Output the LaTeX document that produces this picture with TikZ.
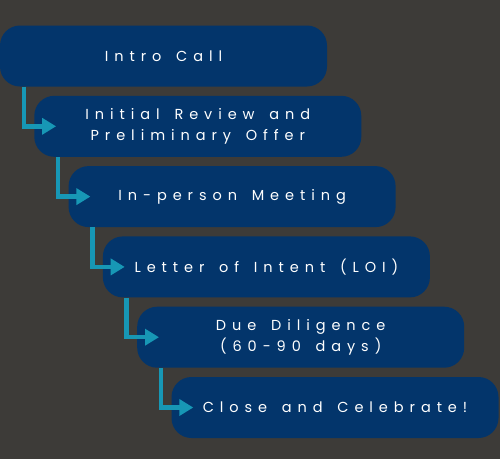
\documentclass[tikz,border=0pt]{standalone}
\usepackage{fontspec}
\setmainfont{Poppins}[LetterSpace=41,WordSpace=1.5]
\usetikzlibrary{arrows.meta}
\definecolor{bgcol}{HTML}{3D3B38}
\definecolor{boxcol}{HTML}{03356B}
\definecolor{linkcol}{HTML}{1797B5}
\begin{document}
\begin{tikzpicture}[x=1pt,y=-1pt]

        \fill[bgcol] (0,0) rectangle (500,459);
        \useasboundingbox (0,0) rectangle (500,459);

        \begin{scope}[every node/.style={rectangle,rounded corners=20pt,fill=boxcol,
            minimum width=327pt,minimum height=61pt,text=white,font=\fontsize{14.5}{21}\selectfont,
            align=center}]
          \node (1) at (163.5,56)    {Intro Call};
          \node (2) at (197.8,126.3) {Initial Review and\\Preliminary Offer};
          \node (3) at (232.1,196.6) {In-person Meeting};
          \node (4) at (266.4,266.9) {Letter of Intent (LOI)};
          \node (5) at (300.7,337.2) {Due Diligence\\(60-90 days)};
          \node (6) at (335,407.5)   {Close and Celebrate!};
        \end{scope}

        \begin{scope}[every path/.style={draw=linkcol,line width=4.5pt,
            -{Triangle[length=14pt,width=16pt]}}]
          \draw ([xshift=24pt]1.south west) |- ([xshift=22pt]2.west);
          \draw ([xshift=24pt]2.south west) |- ([xshift=22pt]3.west);
          \draw ([xshift=24pt]3.south west) |- ([xshift=22pt]4.west);
          \draw ([xshift=24pt]4.south west) |- ([xshift=22pt]5.west);
          \draw ([xshift=24pt]5.south west) |- ([xshift=22pt]6.west);
        \end{scope}

      \end{tikzpicture}
\end{document}
